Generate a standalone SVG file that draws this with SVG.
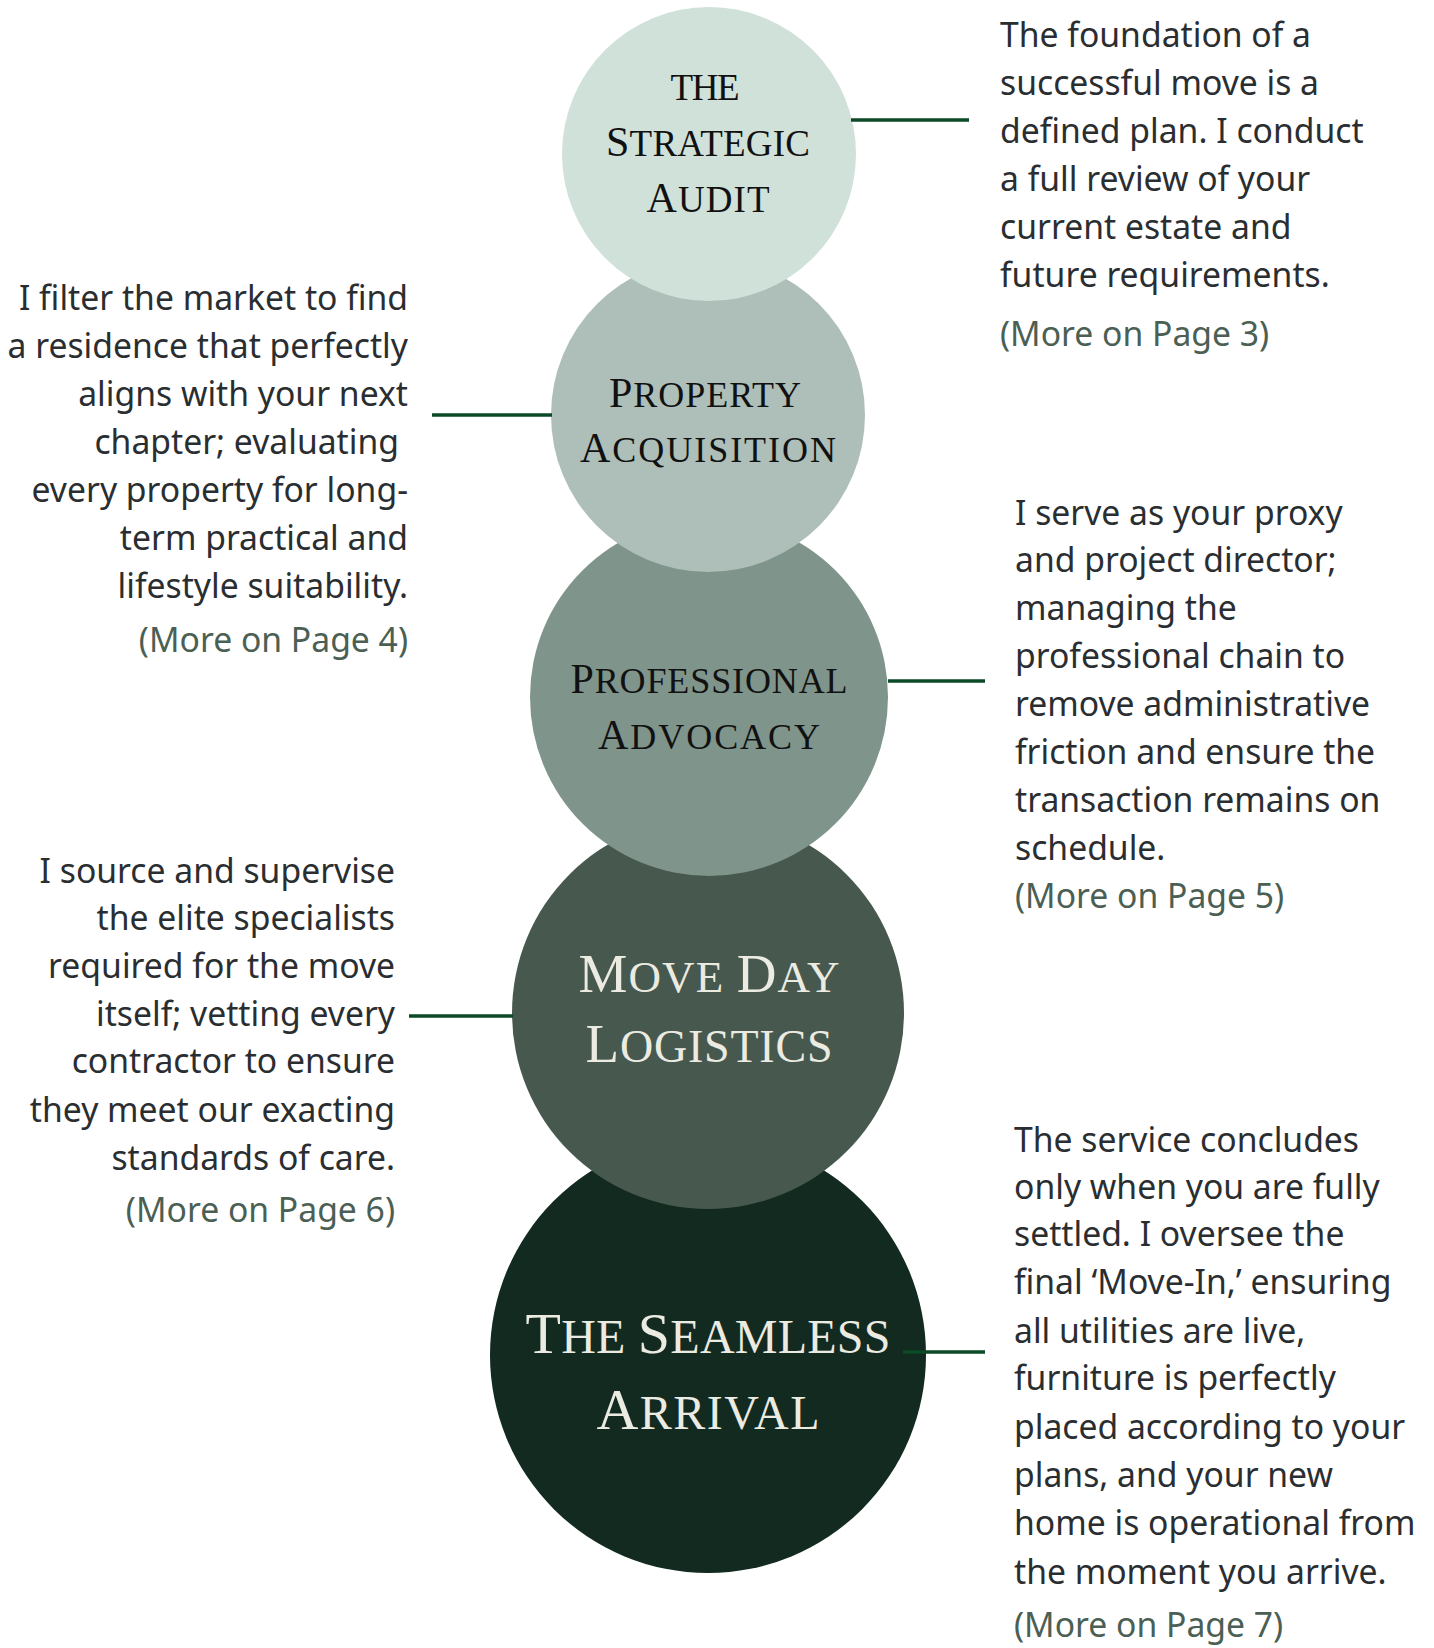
<svg xmlns="http://www.w3.org/2000/svg" width="1434" height="1648" viewBox="0 0 1434 1648">
<style>
.title{font-family:"Liberation Serif","DejaVu Serif",serif;text-anchor:middle}
.dark{fill:#111111}
.light{fill:#ECEBE2}
.body{font-family:"Noto Sans","Open Sans",sans-serif;font-size:33.7px;fill:#2a2e31}
.more{fill:#4b5f54}
.end{text-anchor:end}
.conn{stroke:#0c4a27;stroke-width:3.5;fill:none}
</style>
<rect width="1434" height="1648" fill="#ffffff"/>

<g id="node-seamless-arrival">
<circle cx="708" cy="1355" r="218" fill="#122A1F"/>
<text class="title light" x="708" y="1353" textLength="365" lengthAdjust="spacing"><tspan font-size="58">T</tspan><tspan font-size="48">HE </tspan><tspan font-size="58">S</tspan><tspan font-size="48">EAMLESS</tspan></text>
<text class="title light" x="708" y="1429" textLength="223" lengthAdjust="spacing"><tspan font-size="58">A</tspan><tspan font-size="48">RRIVAL</tspan></text>
</g>

<g id="node-move-day">
<circle cx="708" cy="1013" r="196" fill="#47584E"/>
<text class="title light" x="709" y="992" textLength="261" lengthAdjust="spacing"><tspan font-size="55">M</tspan><tspan font-size="45">OVE </tspan><tspan font-size="55">D</tspan><tspan font-size="45">AY</tspan></text>
<text class="title light" x="709" y="1062" textLength="247" lengthAdjust="spacing"><tspan font-size="55">L</tspan><tspan font-size="46">OGISTICS</tspan></text>
</g>

<g id="node-professional-advocacy">
<circle cx="709" cy="697" r="179" fill="#7F948B"/>
<text class="title dark" x="709" y="693" textLength="277" lengthAdjust="spacing"><tspan font-size="42">P</tspan><tspan font-size="36">ROFESSIONAL</tspan></text>
<text class="title dark" x="709" y="749" textLength="222" lengthAdjust="spacing"><tspan font-size="42">A</tspan><tspan font-size="36">DVOCACY</tspan></text>
</g>

<g id="node-property-acquisition">
<circle cx="708" cy="415" r="157" fill="#ADBFB8"/>
<text class="title dark" x="705" y="407" textLength="192" lengthAdjust="spacing"><tspan font-size="42">P</tspan><tspan font-size="36">ROPERTY</tspan></text>
<text class="title dark" x="708" y="462" textLength="256" lengthAdjust="spacing"><tspan font-size="42">A</tspan><tspan font-size="36">CQUISITION</tspan></text>
</g>

<g id="node-strategic-audit">
<circle cx="709" cy="154" r="147" fill="#D0E1DA"/>
<text class="title dark" x="705" y="100" textLength="69" lengthAdjust="spacing" font-size="37">THE</text>
<text class="title dark" x="708" y="156" textLength="204" lengthAdjust="spacing"><tspan font-size="42">S</tspan><tspan font-size="37">TRATEGIC</tspan></text>
<text class="title dark" x="708" y="212" textLength="123" lengthAdjust="spacing"><tspan font-size="42">A</tspan><tspan font-size="37">UDIT</tspan></text>
</g>

<g id="desc-strategic-audit" class="body">
<text x="1000" y="47">The foundation of a</text>
<text x="1000" y="95">successful move is a</text>
<text x="1000" y="143">defined plan. I conduct</text>
<text x="1000" y="191">a full review of your</text>
<text x="1000" y="239">current estate and</text>
<text x="1000" y="287">future requirements.</text>
<text x="1000" y="346" class="more">(More on Page 3)</text>
</g>

<g id="desc-property-acquisition" class="body end">
<text x="408" y="310">I filter the market to find</text>
<text x="408" y="358">a residence that perfectly</text>
<text x="408" y="406">aligns with your next</text>
<text x="399" y="454">chapter; evaluating</text>
<text x="408" y="502">every property for long-</text>
<text x="408" y="550">term practical and</text>
<text x="408" y="598">lifestyle suitability.</text>
<text x="408" y="652" class="more">(More on Page 4)</text>
</g>

<g id="desc-professional-advocacy" class="body">
<text x="1015" y="525">I serve as your proxy</text>
<text x="1015" y="572">and project director;</text>
<text x="1015" y="620">managing the</text>
<text x="1015" y="668">professional chain to</text>
<text x="1015" y="716">remove administrative</text>
<text x="1015" y="764">friction and ensure the</text>
<text x="1015" y="812">transaction remains on</text>
<text x="1015" y="860">schedule.</text>
<text x="1015" y="908" class="more">(More on Page 5)</text>
</g>

<g id="desc-move-day" class="body end">
<text x="395" y="883">I source and supervise</text>
<text x="395" y="930">the elite specialists</text>
<text x="395" y="978">required for the move</text>
<text x="395" y="1026">itself; vetting every</text>
<text x="395" y="1073">contractor to ensure</text>
<text x="395" y="1122">they meet our exacting</text>
<text x="395" y="1170">standards of care.</text>
<text x="395" y="1222" class="more">(More on Page 6)</text>
</g>

<g id="desc-seamless-arrival" class="body">
<text x="1014" y="1152">The service concludes</text>
<text x="1014" y="1199">only when you are fully</text>
<text x="1014" y="1246">settled. I oversee the</text>
<text x="1014" y="1294">final ‘Move-In,’ ensuring</text>
<text x="1014" y="1343">all utilities are live,</text>
<text x="1014" y="1390">furniture is perfectly</text>
<text x="1014" y="1439">placed according to your</text>
<text x="1014" y="1487">plans, and your new</text>
<text x="1014" y="1535">home is operational from</text>
<text x="1014" y="1584">the moment you arrive.</text>
<text x="1014" y="1637" class="more">(More on Page 7)</text>
</g>

<g id="connectors">
<line class="conn" x1="851" y1="120" x2="969" y2="120"/>
<line class="conn" x1="432" y1="415" x2="552" y2="415"/>
<line class="conn" x1="888" y1="681" x2="985" y2="681"/>
<line class="conn" x1="409" y1="1016" x2="513" y2="1016"/>
<line class="conn" x1="903" y1="1352" x2="985" y2="1352"/>
</g>
</svg>
